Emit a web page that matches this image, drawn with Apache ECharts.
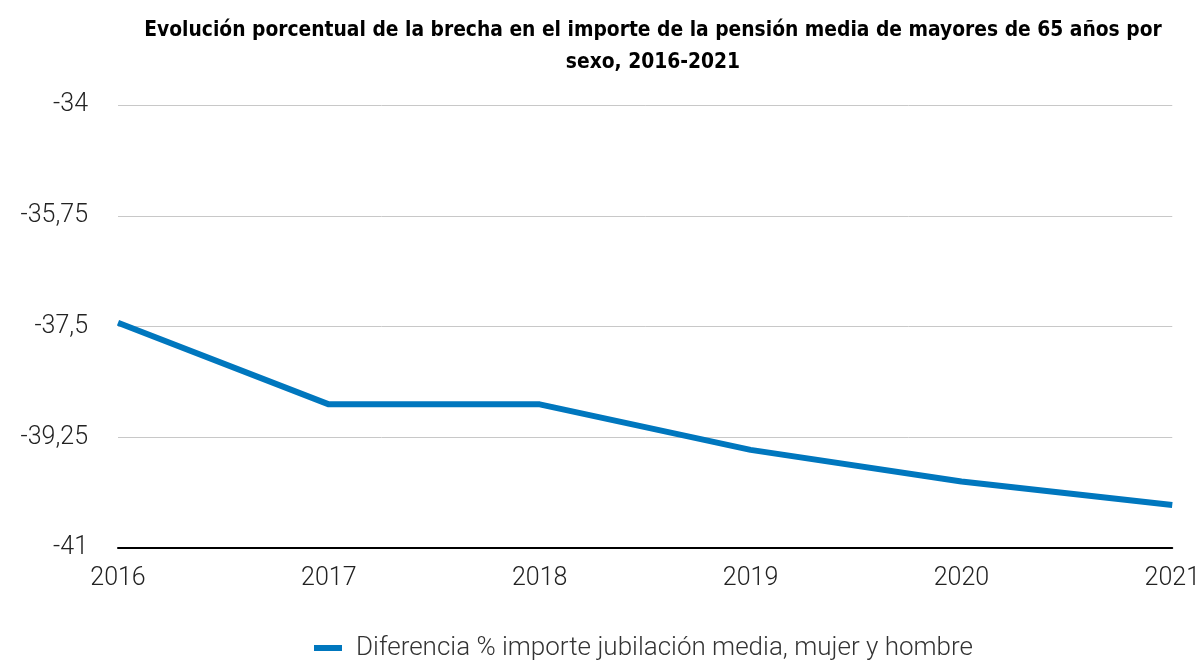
<!DOCTYPE html>
<html>
<head>
<meta charset="utf-8">
<script src="https://cdn.jsdelivr.net/npm/echarts@6/dist/echarts.min.js"></script>
<style>
  html, body { margin: 0; padding: 0; background: #fff; }
  #chart { width: 1203px; height: 660px; }
</style>
</head>
<body>
<div id="chart"></div>
<script>
const years = ['2016', '2017', '2018', '2019', '2020', '2021']
const brecha = [-37.44, -38.73, -38.73, -39.45, -39.95, -40.32]
const yTicks = [-41, -39.25, -37.5, -35.75, -34]
const serieName = 'Diferencia % importe jubilación media, mujer y hombre'

const labelFont = 'Roboto, "Liberation Sans", sans-serif'

const chart = echarts.init(document.getElementById('chart'))

chart.setOption({
  animation: false,
  title: {
    text: 'Evolución porcentual de la brecha en el importe de la pensión media de mayores de 65 años por\nsexo, 2016-2021',
    left: 648,
    top: 10,
    textAlign: 'center',
    textStyle: {
      fontFamily: '"Liberation Sans Narrow", "DejaVu Sans Condensed", sans-serif',
      fontWeight: 'bold',
      fontSize: 20.8,
      lineHeight: 32,
      color: '#000',
    },
  },
  grid: {
    left: 118,
    right: 28,
    top: 105,
    bottom: 112,
  },
  xAxis: {
    type: 'category',
    data: years,
    boundaryGap: false,
    axisLine: { lineStyle: { color: '#000', width: 2 } },
    axisTick: { show: false },
    axisLabel: {
      margin: 18,
      fontSize: 25,
      fontWeight: 300,
      color: '#222',
      fontFamily: labelFont,
    },
  },
  yAxis: {
    type: 'value',
    min: yTicks[0],
    max: yTicks[yTicks.length - 1],
    interval: 1.75,
    axisLine: { show: false },
    axisTick: { show: false },
    splitLine: { lineStyle: { color: '#c8c8c8', width: 1 } },
    axisLabel: {
      margin: 30,
      fontSize: 25,
      fontWeight: 300,
      color: '#222',
      fontFamily: labelFont,
      padding: [4, 0, 0, 0],
      formatter: (v) => String(Math.round(v * 100) / 100).replace('.', ','),
    },
  },
  legend: {
    left: 309,
    top: 630,
    itemWidth: 28,
    itemHeight: 6,
    itemGap: 10,
    icon: 'rect',
    textStyle: {
      fontSize: 26,
      fontWeight: 300,
      color: '#333',
      fontFamily: labelFont,
      padding: [0, 0, 0, 9],
    },
    data: [serieName],
  },
  series: [
    {
      name: serieName,
      type: 'line',
      data: brecha,
      symbol: 'none',
      lineStyle: { color: '#0077be', width: 6 },
      itemStyle: { color: '#0077be' },
    },
  ],
})
</script>
</body>
</html>
